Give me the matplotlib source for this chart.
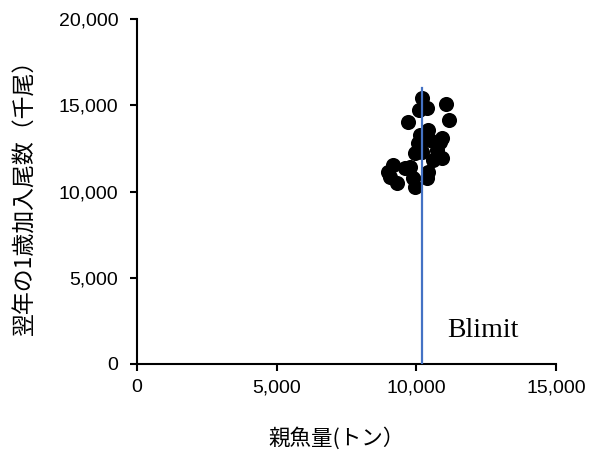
import matplotlib
matplotlib.use("Agg")
import matplotlib.pyplot as plt
from matplotlib.ticker import FuncFormatter

plt.rcParams['font.family'] = ['Liberation Sans', 'Noto Sans CJK JP', 'DejaVu Sans']

# Spawning stock biomass (t) and next-year age-1 recruits (thousand fish)
spawning_biomass = [10200, 11060, 10100, 10380, 9700, 11170, 10420, 10130, 10920,
                    10060, 10490, 10850, 10920, 10600, 10200, 9950, 9160, 8990,
                    9060, 9310, 9770, 9880, 9950, 10420, 10380, 9590, 10740]
recruits = [15420, 15070, 14720, 14840, 14030, 14140, 13570, 13280, 13100,
            12810, 12990, 12870, 11940, 11830, 12290, 12230, 11540, 11130,
            10840, 10490, 11420, 10780, 10260, 11130, 10780, 11360, 12410]

blimit_x = 10200
blimit_top = 16000
blimit_label = "Blimit"

x_ticks = [0, 5000, 10000, 15000]
y_ticks = [0, 5000, 10000, 15000, 20000]
x_label = "親魚量(トン）"
y_label = "翌年の1歳加入尾数（千尾）"

fig = plt.figure(figsize=(5.91, 4.55), dpi=100)
ax = fig.add_axes([0.2318, 0.2, 0.709, 0.7582])

ax.scatter(spawning_biomass, recruits, s=118, color='black', zorder=2, linewidths=0)
ax.plot([blimit_x, blimit_x], [0, blimit_top], color='#4472C4', linewidth=1.6, zorder=3)
ax.text(blimit_x + 900, 1570, blimit_label, family='Liberation Serif', fontsize=20,
        ha='left', va='baseline')

ax.set_xlim(0, 15000)
ax.set_ylim(0, 20000)
ax.set_xticks(x_ticks)
ax.set_yticks(y_ticks)
fmt = FuncFormatter(lambda v, p: f"{int(v):,}")
ax.xaxis.set_major_formatter(fmt)
ax.yaxis.set_major_formatter(fmt)

for side in ('top', 'right'):
    ax.spines[side].set_visible(False)
for side in ('left', 'bottom'):
    ax.spines[side].set_linewidth(1.5)
ax.tick_params(direction='out', length=5, width=1.5, labelsize=14)
ax.tick_params(axis='x', pad=6)
ax.tick_params(axis='y', pad=8.5)

ax.set_xlabel(x_label, fontsize=15.5, family=['Noto Sans CJK JP', 'DejaVu Sans'])
ax.set_ylabel(y_label, fontsize=16.5, family=['Noto Sans CJK JP', 'DejaVu Sans'])
ax.xaxis.set_label_coords(0.475, -0.182)
ax.yaxis.set_label_coords(-0.24, 0.5)

fig.savefig("out.png", dpi=100, facecolor='white')
